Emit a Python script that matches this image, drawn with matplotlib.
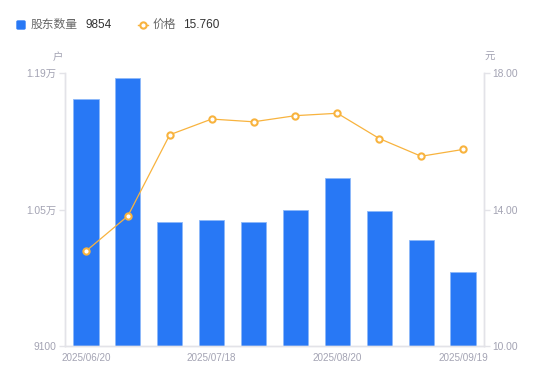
import matplotlib.pyplot as plt
from matplotlib.patches import FancyBboxPatch
from matplotlib.lines import Line2D

plt.rcParams['font.family'] = ['Liberation Sans', 'Noto Sans CJK SC']

# Data
dates = ['2025/06/20', '2025/06/30', '2025/07/10', '2025/07/18', '2025/07/31',
         '2025/08/08', '2025/08/20', '2025/08/29', '2025/09/10', '2025/09/19']
holders = [11632, 11849, 10376, 10393, 10376, 10490, 10825, 10486, 10187, 9854]
price = [12.78, 13.81, 16.19, 16.65, 16.57, 16.75, 16.82, 16.08, 15.56, 15.76]

left_ticks = [9100, 10500, 11900]
left_labels = ['9100', '1.05万', '1.19万']
right_ticks = [10, 14, 18]

blue = '#2878F5'
orange = '#F8B33E'
axis_grey = '#E3E3E8'
label_grey = '#A3A3B3'

fig = plt.figure(figsize=(5.5, 3.81), dpi=100)
ax = fig.add_axes([65 / 550, 1 - 346 / 381, 419 / 550, 273 / 381])
ax2 = ax.twinx()

x = list(range(len(dates)))
ax.bar(x, holders, width=0.6, color=blue, edgecolor='#8DB8FA', linewidth=0.6, zorder=2)
ax.set_xlim(-0.5, len(dates) - 0.5)
ax.set_ylim(9100, 11900)
ax.set_yticks(left_ticks)
ax.set_yticklabels(left_labels)
ax.set_xticks([0, 3, 6, 9])
ax.set_xticklabels([dates[i] for i in [0, 3, 6, 9]])

ax2.plot(x, price, color=orange, linewidth=0.9, marker='o', markersize=4.5,
         markerfacecolor='white', markeredgecolor=orange, markeredgewidth=1.5, zorder=3)
ax2.set_ylim(10, 18)
ax2.set_yticks(right_ticks)
ax2.set_yticklabels([f'{v:.2f}' for v in right_ticks])

for a in (ax, ax2):
    a.spines['top'].set_visible(False)
    for side in ('left', 'right', 'bottom'):
        a.spines[side].set_color(axis_grey)
        a.spines[side].set_linewidth(1)
    a.tick_params(axis='y', length=4, width=1, color=axis_grey, labelcolor=label_grey,
                  labelsize=7.4, pad=2)
ax.tick_params(axis='x', length=0, labelcolor=label_grey, labelsize=7.1, pad=5)

# unit labels
fig.text(58 / 550, 1 - 57 / 381, '户', color=label_grey, fontsize=7.5, ha='center', va='center')
fig.text(490 / 550, 1 - 57 / 381, '元', color=label_grey, fontsize=7.5, ha='center', va='center')

# custom legend
ly = 1 - 25 / 381
fig.patches.append(FancyBboxPatch((17 / 550, ly - 4 / 381), 8 / 550, 8 / 381,
                                  boxstyle='round,pad=0,rounding_size=0.002',
                                  transform=fig.transFigure, color=blue))
fig.text(31 / 550, ly, '股东数量', color='#666666', fontsize=8.5, va='center')
fig.text(85 / 550, ly, '9854', color='#333333', fontsize=8.5, va='center')
fig.lines.append(Line2D([138 / 550, 148 / 550], [ly, ly], transform=fig.transFigure,
                        color=orange, linewidth=1))
fig.lines.append(Line2D([143 / 550], [ly], transform=fig.transFigure, color=orange,
                        marker='o', markersize=4.5, markerfacecolor='white',
                        markeredgewidth=1.5))
fig.text(153 / 550, ly, '价格', color='#666666', fontsize=8.5, va='center')
fig.text(183 / 550, ly, '15.760', color='#333333', fontsize=8.5, va='center')

plt.savefig('out.png', dpi=100)
